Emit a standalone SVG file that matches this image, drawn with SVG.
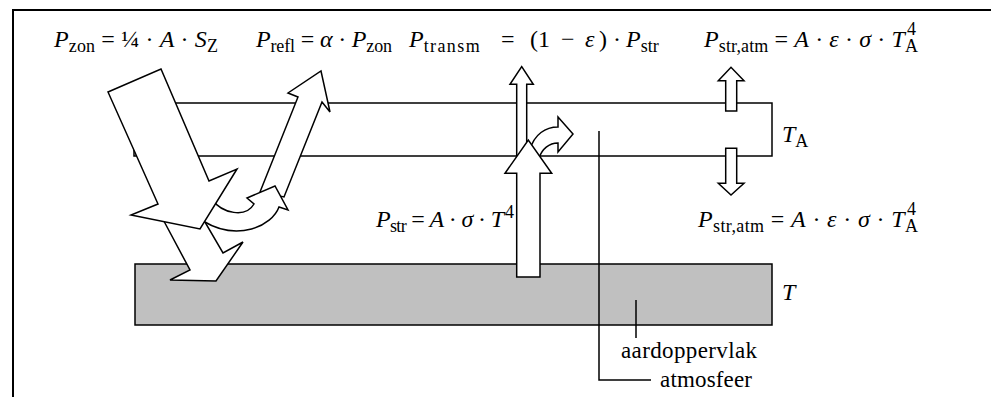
<svg xmlns="http://www.w3.org/2000/svg" width="991" height="397" viewBox="0 0 991 397">
<style>
.ln{fill:none;stroke:#000;stroke-width:1.5}
.fr{fill:none;stroke:#000;stroke-width:2}
.ar{fill:#fff;stroke:#000;stroke-width:1.5;stroke-linejoin:miter}
.m{font-family:"Liberation Serif","Times New Roman",serif;font-size:24px;fill:#000}
.t{font-family:"Liberation Serif","Times New Roman",serif;font-size:23px;fill:#000}
.i{font-style:italic}
.s{font-size:18px}
</style>
<rect width="991" height="397" fill="#fff"/>
<path class="fr" d="M13,397 V10 H991"/>

<g id="atmosphere">
<rect class="ln" x="134" y="103" width="638" height="53"/>
</g>
<g id="ground">
<rect x="135" y="264" width="637" height="61" fill="#c0c0c0" stroke="#000" stroke-width="1.5"/>
</g>

<g id="connectors">
<path class="ln" d="M599,131 V380 H651"/>
<path class="ln" d="M636,300 V338"/>
<polygon class="ar" points="158,210 190,270 170,280 216,281 243,242 223,253 198,210"/>
<polygon class="ar" points="260,192 298,97 288,93 321,71 330,112 322,102 284,197"/>
<path class="ar" d="M212,199 C222,214 246,218 254,204 L247,198 L275,186 L288,210 L279,207 C272,226 238,242 203,221 Z"/>
<polygon class="ar" points="108,92 161,69 209,181 237,169 200,229 131,215 158,204"/>
<polygon class="ar" points="516.7,165 516.7,84.3 510,84.3 521.7,66.7 533.3,84.3 526.7,84.3 526.7,165"/>
<path class="ar" d="M530,150 C534,134 546,127 558,127 L558,117 L573,134 L558,152 L558,143 C549,143 542,149 539,158 Z"/>
<polygon class="ar" points="516.7,277 516.7,173.3 505,173.3 528.3,140 551.7,173.3 540,173.3 540,277"/>
<polygon class="ar" points="725.7,111 725.7,80.7 718.3,80.7 731,67.3 744,80.7 736.7,80.7 736.7,111"/>
<polygon class="ar" points="725.7,148.3 725.7,183.3 718.3,183.3 731,195 744,183.3 736.7,183.3 736.7,148.3"/>
</g>

<g id="labels">
<text class="m" x="54" y="47" textLength="164"><tspan class="i">P</tspan><tspan class="s" dy="5">zon</tspan><tspan dy="-5"> = ¼ · </tspan><tspan class="i">A</tspan><tspan> · </tspan><tspan class="i">S</tspan><tspan class="s" dy="5">Z</tspan></text>
<text class="m" x="256" y="47" textLength="136"><tspan class="i">P</tspan><tspan class="s" dy="5">refl</tspan><tspan dy="-5"> = </tspan><tspan class="i">α</tspan><tspan> · </tspan><tspan class="i">P</tspan><tspan class="s" dy="5">zon</tspan></text>
<text class="m" x="409" y="47"><tspan class="i">P</tspan><tspan class="s" dy="5" textLength="56">transm</tspan><tspan dy="-5" x="501">=</tspan><tspan x="530">(1</tspan><tspan x="561">−</tspan><tspan class="i" x="585">ε</tspan><tspan x="599">)</tspan><tspan x="613">·</tspan><tspan class="i" x="626">P</tspan><tspan class="s" dy="5">str</tspan></text>
<text class="m" x="704" y="47" textLength="214"><tspan class="i">P</tspan><tspan class="s" dy="5">str,atm</tspan><tspan dy="-5"> = </tspan><tspan class="i">A</tspan><tspan> · </tspan><tspan class="i">ε</tspan><tspan> · </tspan><tspan class="i">σ</tspan><tspan> · </tspan><tspan class="i">T</tspan><tspan class="s" dy="5">A</tspan></text>
<text class="m s" x="907" y="35">4</text>
<text class="m" x="376" y="227" textLength="128"><tspan class="i">P</tspan><tspan class="s" dy="5">str</tspan><tspan dy="-5"> = </tspan><tspan class="i">A</tspan><tspan> · </tspan><tspan class="i">σ</tspan><tspan> · </tspan><tspan class="i">T</tspan></text>
<text class="m s" x="505" y="218">4</text>
<text class="m" x="698" y="227" textLength="220"><tspan class="i">P</tspan><tspan class="s" dy="5">str,atm</tspan><tspan dy="-5"> = </tspan><tspan class="i">A</tspan><tspan> · </tspan><tspan class="i">ε</tspan><tspan> · </tspan><tspan class="i">σ</tspan><tspan> · </tspan><tspan class="i">T</tspan><tspan class="s" dy="5">A</tspan></text>
<text class="m s" x="907" y="215">4</text>
<text class="m" x="782" y="142"><tspan class="i">T</tspan><tspan class="s" dy="5">A</tspan></text>
<text class="m i" x="782" y="300">T</text>
<text class="t" x="621" y="358" textLength="136">aardoppervlak</text>
<text class="t" x="660" y="387" textLength="92">atmosfeer</text>
</g>
</svg>
